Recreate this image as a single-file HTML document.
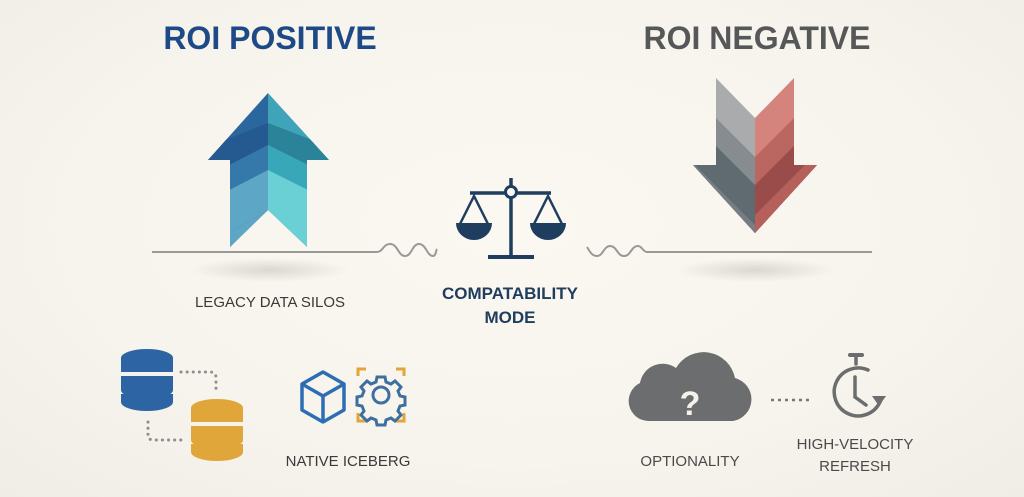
<!DOCTYPE html>
<html><head><meta charset="utf-8"><style>
html,body{margin:0;padding:0;}
body{width:1024px;height:497px;overflow:hidden;background:radial-gradient(ellipse at 50% 45%,#faf8f0 0%,#f6f4ec 60%,#efede5 100%);font-family:"Liberation Sans",sans-serif;position:relative;}
.t{position:absolute;white-space:nowrap;text-align:center;}
</style></head><body>
<svg width="1024" height="497" style="position:absolute;left:0;top:0">
<defs>
<radialGradient id="sh"><stop offset="0" stop-color="#000" stop-opacity="0.12"/><stop offset="1" stop-color="#000" stop-opacity="0"/></radialGradient>
<clipPath id="up"><polygon points="268,93 329,160 307,160 307,247 268,210 230,247 230,160 208,160"/></clipPath>
<clipPath id="dn"><polygon points="716,78 755,118 794,78 794,165 817,165 755,233 693,165 716,165"/></clipPath>
</defs>
<ellipse cx="270" cy="270" rx="80" ry="12" fill="url(#sh)"/>
<ellipse cx="755" cy="270" rx="80" ry="12" fill="url(#sh)"/>
<!-- up arrow -->
<g clip-path="url(#up)">
<rect x="200" y="80" width="68" height="180" fill="#2b679f"/>
<rect x="268" y="80" width="70" height="180" fill="#3fa3ba"/>
<polygon points="200,150 268,123 268,145 200,180" fill="#245a8f"/>
<polygon points="200,180 268,145 268,170 200,205" fill="#3479aa"/>
<polygon points="200,205 268,170 268,210 200,250" fill="#5ea6c5"/>
<polygon points="200,250 268,210 268,260 200,260" fill="#5ea6c5"/>
<polygon points="338,150 268,123 268,145 338,180" fill="#2a8398"/>
<polygon points="338,180 268,145 268,170 338,205" fill="#38a7b8"/>
<polygon points="338,205 268,170 268,260 338,260" fill="#6ad0d5"/>
</g>
<!-- down arrow -->
<g clip-path="url(#dn)">
<rect x="690" y="70" width="65" height="170" fill="#a9abac"/>
<rect x="755" y="70" width="65" height="170" fill="#d4847d"/>
<polygon points="690,92 755,157 755,240 690,240" fill="#868c90"/>
<polygon points="690,120 755,185 755,240 690,240" fill="#5f6a71"/>
<polygon points="690,160 755,225 755,240 690,240" fill="#767e83"/>
<polygon points="690,165 755,230 755,240 690,240" fill="#767e83"/>
<polygon points="820,92 755,157 755,240 820,240" fill="#b96760"/>
<polygon points="820,120 755,185 755,240 820,240" fill="#9a4c4a"/>
<polygon points="820,150 755,215 755,240 820,240" fill="#b5605b"/>
</g>
<!-- lines -->
<path d="M152 252 H377 C383 252 383 244 390 244 C398 244 398 256 405 256 C412 256 412 244 419 244 C426 244 427 256 433 256 C436 256 436 250 437 249" fill="none" stroke="#999" stroke-width="2"/>
<path d="M587 247 C590 252 592 256 597 256 C603 256 604 246 610 246 C617 246 617 256 624 256 C631 256 631 246 638 246 C642 246 643 252 647 252 H872" fill="none" stroke="#999" stroke-width="2"/>
<!-- scale -->
<g stroke="#1f3d5e" fill="none" stroke-width="3.5">
<line x1="511" y1="178" x2="511" y2="186"/>
<line x1="511" y1="198" x2="511" y2="257"/>
<circle cx="511" cy="192" r="5.5" stroke-width="3"/>
<line x1="470" y1="193" x2="505" y2="193"/>
<line x1="517" y1="193" x2="551" y2="193"/>
<line x1="488" y1="257" x2="534" y2="257" stroke-width="4"/>
<polyline points="460,224 474,196 488,224" stroke-width="2.5"/>
<polyline points="534,224 548,196 562,224" stroke-width="2.5"/>
</g>
<path d="M456 223 H492 A18 17 0 0 1 456 223Z" fill="#1f3d5e"/>
<path d="M530 223 H566 A18 17 0 0 1 530 223Z" fill="#1f3d5e"/>
<!-- databases -->
<g fill="#2c64a4">
<ellipse cx="147" cy="358" rx="26" ry="9"/>
<rect x="121" y="358" width="52" height="14"/>
<path d="M121 376 H173 V390 A26 9 0 0 1 121 390Z"/>
<path d="M121 394 H173 V402 A26 9 0 0 1 121 402Z"/>
</g>
<g fill="#e0a63a">
<ellipse cx="217" cy="408" rx="26" ry="9"/>
<rect x="191" y="408" width="52" height="14"/>
<path d="M191 426 H243 V440 A26 9 0 0 1 191 440Z"/>
<path d="M191 444 H243 V452 A26 9 0 0 1 191 452Z"/>
</g>
<g fill="none" stroke="#8a8f92" stroke-width="3" stroke-dasharray="0.1 6" stroke-linecap="round">
<path d="M181 372 H210 Q216 372 216 378 V392"/>
<path d="M148 422 V436 Q148 440 154 440 H182"/>
</g>
<!-- cube -->
<g fill="none" stroke="#2d6db3" stroke-width="3.5" stroke-linejoin="round">
<polygon points="323,372 344,384 344,410 323,422 302,410 302,384"/>
<polyline points="302,384 323,396 344,384"/><line x1="323" y1="396" x2="323" y2="422"/>
</g>
<!-- gear frame -->
<g fill="none" stroke="#e0a63a" stroke-width="3">
<path d="M358 376 V369 H366 M396 369 H404 V376 M404 413 V421 H396 M366 421 H358 V413"/>
</g>
<g fill="none" stroke="#3d6f9f" stroke-width="3">
<circle cx="381" cy="395" r="8"/>
<path d="M377 377 h8 l1 5 l5 2 l4 -3 l6 6 l-3 4 l2 5 l5 1 v8 l-5 1 l-2 5 l3 4 l-6 6 l-4 -3 l-5 2 l-1 5 h-8 l-1 -5 l-5 -2 l-4 3 l-6 -6 l3 -4 l-2 -5 l-5 -1 v-8 l5 -1 l2 -5 l-3 -4 l6 -6 l4 3 l5 -2z"/>
</g>
<!-- cloud -->
<path d="M648 421 A20 20 0 0 1 640 383 A23 23 0 0 1 676 368 A32 32 0 0 1 735 378 A22 22 0 0 1 733 421 Z" fill="#6b6d6e"/>
<text x="690" y="415" font-family="Liberation Sans" font-weight="bold" font-size="34" fill="#f4f2ea" text-anchor="middle">?</text>
<line x1="771" y1="400" x2="812" y2="400" stroke="#777" stroke-width="2.5" stroke-dasharray="3 4"/>
<!-- stopwatch -->
<g fill="none" stroke="#6b6d6e" stroke-width="3.5" stroke-linecap="round">
<line x1="850" y1="355" x2="862" y2="355" stroke-width="4"/>
<line x1="856" y1="356" x2="856" y2="364"/>
<path d="M880 402 A24 24 0 1 1 868 370"/>
<polyline points="855,377 855,397 866,405"/>
</g>
<polygon points="872,396 886,396 879,406" fill="#6b6d6e"/>
</svg>
<div class="t" style="left:120px;top:20px;width:300px;font-size:32px;font-weight:bold;color:#1d4a86;">ROI POSITIVE</div>
<div class="t" style="left:607px;top:20px;width:300px;font-size:32px;font-weight:bold;color:#565758;">ROI NEGATIVE</div>
<div class="t" style="left:160px;top:294px;width:220px;font-size:15px;color:#3a3a3a;">LEGACY DATA SILOS</div>
<div class="t" style="left:410px;top:282px;width:200px;font-size:17px;font-weight:bold;color:#1f3d5e;line-height:24px;">COMPATABILITY<br>MODE</div>
<div class="t" style="left:258px;top:453px;width:180px;font-size:15px;color:#3a3a3a;">NATIVE ICEBERG</div>
<div class="t" style="left:600px;top:453px;width:180px;font-size:15px;color:#4a4a4a;">OPTIONALITY</div>
<div class="t" style="left:770px;top:434px;width:170px;font-size:15px;color:#4a4a4a;line-height:22px;">HIGH-VELOCITY<br>REFRESH</div>
</body></html>
